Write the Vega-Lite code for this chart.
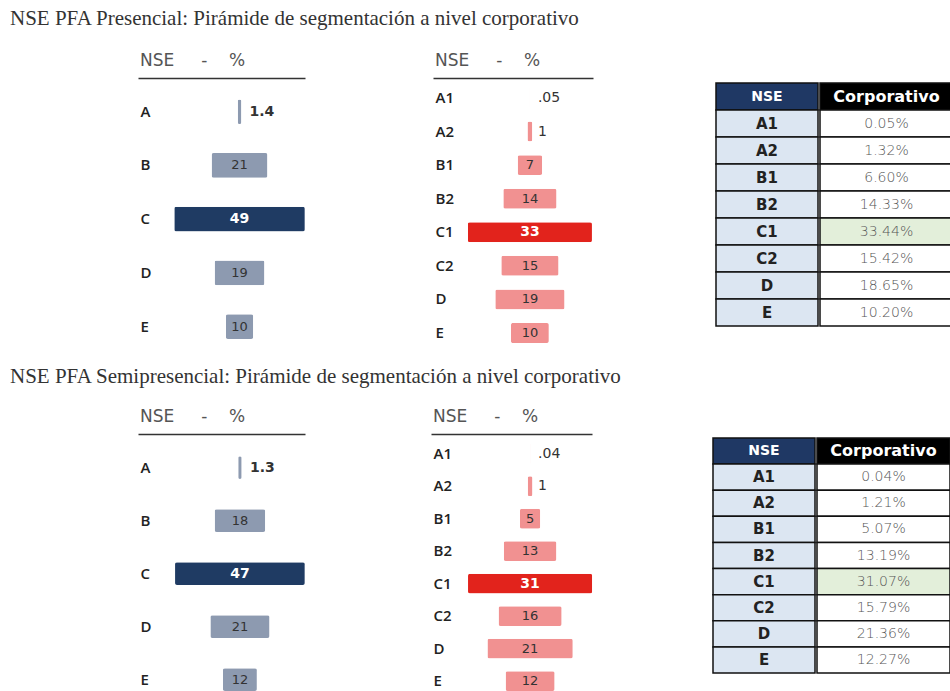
{
  "$schema": "https://vega.github.io/schema/vega-lite/v6.json",
  "background": "white",
  "padding": {"left": 10, "top": 8, "right": 0, "bottom": 0},
  "config": {
    "view": {"stroke": null},
    "font": "DejaVu Sans",
    "axis": {"grid": false},
    "axisX": {"orient": "top", "labels": false, "ticks": false, "grid": false, "title": null, "domainColor": "#333", "domainWidth": 1.5},
    "axisY": {"domain": false, "ticks": false, "title": null, "labelAlign": "left", "labelPadding": -2, "labelFont": "Open Sans", "labelFontWeight": 600, "labelFontSize": 15, "labelColor": "#222"}
  },
  "datasets": {
    "left1": [
      {"nse": "A", "pct": 1.37, "label": "1.4"},
      {"nse": "B", "pct": 20.93, "label": "21"},
      {"nse": "C", "pct": 48.86, "label": "49"},
      {"nse": "D", "pct": 18.65, "label": "19"},
      {"nse": "E", "pct": 10.2, "label": "10"}
    ],
    "right1": [
      {"nse": "A1", "pct": 0.05, "label": ".05"},
      {"nse": "A2", "pct": 1.32, "label": "1"},
      {"nse": "B1", "pct": 6.6, "label": "7"},
      {"nse": "B2", "pct": 14.33, "label": "14"},
      {"nse": "C1", "pct": 33.44, "label": "33"},
      {"nse": "C2", "pct": 15.42, "label": "15"},
      {"nse": "D", "pct": 18.65, "label": "19"},
      {"nse": "E", "pct": 10.2, "label": "10"}
    ],
    "table1": [
      {"nse": "NSE", "corp": "Corporativo"},
      {"nse": "A1", "corp": "0.05%"},
      {"nse": "A2", "corp": "1.32%"},
      {"nse": "B1", "corp": "6.60%"},
      {"nse": "B2", "corp": "14.33%"},
      {"nse": "C1", "corp": "33.44%"},
      {"nse": "C2", "corp": "15.42%"},
      {"nse": "D", "corp": "18.65%"},
      {"nse": "E", "corp": "10.20%"}
    ],
    "left2": [
      {"nse": "A", "pct": 1.25, "label": "1.3"},
      {"nse": "B", "pct": 18.26, "label": "18"},
      {"nse": "C", "pct": 46.86, "label": "47"},
      {"nse": "D", "pct": 21.36, "label": "21"},
      {"nse": "E", "pct": 12.27, "label": "12"}
    ],
    "right2": [
      {"nse": "A1", "pct": 0.04, "label": ".04"},
      {"nse": "A2", "pct": 1.21, "label": "1"},
      {"nse": "B1", "pct": 5.07, "label": "5"},
      {"nse": "B2", "pct": 13.19, "label": "13"},
      {"nse": "C1", "pct": 31.07, "label": "31"},
      {"nse": "C2", "pct": 15.79, "label": "16"},
      {"nse": "D", "pct": 21.36, "label": "21"},
      {"nse": "E", "pct": 12.27, "label": "12"}
    ],
    "table2": [
      {"nse": "NSE", "corp": "Corporativo"},
      {"nse": "A1", "corp": "0.04%"},
      {"nse": "A2", "corp": "1.21%"},
      {"nse": "B1", "corp": "5.07%"},
      {"nse": "B2", "corp": "13.19%"},
      {"nse": "C1", "corp": "31.07%"},
      {"nse": "C2", "corp": "15.79%"},
      {"nse": "D", "corp": "21.36%"},
      {"nse": "E", "corp": "12.27%"}
    ]
  },
  "spacing": 17,
  "vconcat": [
    {
      "title": {"text": "NSE PFA Presencial: Pirámide de segmentación a nivel corporativo", "anchor": "start", "dx": -128, "font": "Liberation Serif", "fontSize": 21, "fontWeight": "normal", "color": "#333", "offset": 23},
      "spacing": 122,
      "hconcat": [
        {
          "spacing": 128,
          "hconcat": [
            {
              "width": 167, "height": 266,
              "data": {"name": "left1"},
              "title": {"text": "NSE\u00a0\u00a0\u00a0\u00a0\u00a0-\u00a0\u00a0\u00a0\u00a0%", "anchor": "start", "fontSize": 17, "fontWeight": "normal", "color": "#555", "offset": 8, "dx": 2},
              "encoding": {
                "y": {"field": "nse", "type": "nominal", "sort": null, "scale": {"paddingInner": 0.54, "paddingOuter": 0.2456, "align": 0.81}}
              },
              "layer": [
                {"mark": {"type": "bar", "cornerRadius": 2},
                 "encoding": {
                   "x": {"field": "pct", "type": "quantitative", "stack": "center", "scale": {"domain": [-13.57, 48.93], "nice": false, "zero": false}},
                   "color": {"condition": {"test": "datum.nse === 'C'", "value": "#1f3b63"}, "value": "#8d9ab0"}}},
                {"transform": [{"filter": "datum.pct >= 3 && datum.nse !== 'C'"}],
                 "mark": {"type": "text", "fontSize": 13, "color": "#333"},
                 "encoding": {"x": {"datum": 24.43, "type": "quantitative", "scale": {"domain": [-13.57, 48.93], "nice": false, "zero": false}}, "text": {"field": "label"}}},
                {"transform": [{"filter": "datum.nse === 'C'"}],
                 "mark": {"type": "text", "fontSize": 14, "fontWeight": "bold", "color": "white"},
                 "encoding": {"x": {"datum": 24.43, "type": "quantitative", "scale": {"domain": [-13.57, 48.93], "nice": false, "zero": false}}, "text": {"field": "label"}}},
                {"transform": [{"filter": "datum.pct < 3"}],
                 "mark": {"type": "text", "fontSize": 14, "fontWeight": "bold", "color": "#333", "align": "left", "dx": 10},
                 "encoding": {"x": {"datum": 24.43, "type": "quantitative", "scale": {"domain": [-13.57, 48.93], "nice": false, "zero": false}}, "text": {"field": "label"}}}
              ]
            },
            {
              "width": 160, "height": 271,
              "data": {"name": "right1"},
              "title": {"text": "NSE\u00a0\u00a0\u00a0\u00a0\u00a0-\u00a0\u00a0\u00a0\u00a0%", "anchor": "start", "fontSize": 17, "fontWeight": "normal", "color": "#555", "offset": 8, "dx": 2},
              "encoding": {
                "y": {"field": "nse", "type": "nominal", "sort": null, "scale": {"paddingInner": 0.405, "paddingOuter": 0.238, "align": 0.625}}
              },
              "layer": [
                {"mark": {"type": "bar", "cornerRadius": 2},
                 "encoding": {
                   "x": {"field": "pct", "type": "quantitative", "stack": "center", "scale": {"domain": [-9.38, 33.72], "nice": false, "zero": false}},
                   "color": {"condition": {"test": "datum.nse === 'C1'", "value": "#e2231c"}, "value": "#f19191"}}},
                {"transform": [{"filter": "datum.pct >= 3 && datum.nse !== 'C1'"}],
                 "mark": {"type": "text", "fontSize": 13, "color": "#333"},
                 "encoding": {"x": {"datum": 16.72, "type": "quantitative", "scale": {"domain": [-9.38, 33.72], "nice": false, "zero": false}}, "text": {"field": "label"}}},
                {"transform": [{"filter": "datum.nse === 'C1'"}],
                 "mark": {"type": "text", "fontSize": 14, "fontWeight": "bold", "color": "white"},
                 "encoding": {"x": {"datum": 16.72, "type": "quantitative", "scale": {"domain": [-9.38, 33.72], "nice": false, "zero": false}}, "text": {"field": "label"}}},
                {"transform": [{"filter": "datum.pct < 3"}],
                 "mark": {"type": "text", "fontSize": 14, "color": "#333", "align": "left", "dx": 8},
                 "encoding": {"x": {"datum": 16.72, "type": "quantitative", "scale": {"domain": [-9.38, 33.72], "nice": false, "zero": false}}, "text": {"field": "label"}}}
              ]
            }
          ]
        },
        {
          "spacing": 0,
          "hconcat": [
            {
              "width": 102, "height": 248,
              "data": {"name": "table1"},
              "encoding": {"y": {"field": "nse", "type": "nominal", "sort": null, "scale": {"paddingInner": 0, "paddingOuter": 0.0926, "align": 1}, "axis": null}},
              "layer": [
                {"mark": {"type": "rect", "stroke": "#111", "strokeWidth": 1.5},
                 "encoding": {"fill": {"condition": {"test": "datum.nse === 'NSE'", "value": "#1f3864"}, "value": "#dce6f2"}}},
                {"mark": {"type": "text", "fontWeight": "bold"},
                 "encoding": {"text": {"field": "nse"},
                   "color": {"condition": {"test": "datum.nse === 'NSE'", "value": "white"}, "value": "#222"},
                   "size": {"condition": {"test": "datum.nse === 'NSE'", "value": 14}, "value": 15}}}
              ]
            },
            {
              "width": 133, "height": 248,
              "data": {"name": "table1"},
              "encoding": {"y": {"field": "nse", "type": "nominal", "sort": null, "scale": {"paddingInner": 0, "paddingOuter": 0.0926, "align": 1}, "axis": null}},
              "layer": [
                {"mark": {"type": "rect", "stroke": "#111", "strokeWidth": 1.5},
                 "encoding": {"fill": {"condition": [{"test": "datum.nse === 'NSE'", "value": "#000000"}, {"test": "datum.nse === 'C1'", "value": "#e3efda"}], "value": "white"}}},
                {"transform": [{"filter": "datum.nse === 'NSE'"}],
                 "mark": {"type": "text", "fontWeight": "bold", "fontSize": 16, "color": "white"},
                 "encoding": {"text": {"field": "corp"}}},
                {"transform": [{"filter": "datum.nse !== 'NSE'"}],
                 "mark": {"type": "text", "fontSize": 14, "fontWeight": 200, "color": "#555"},
                 "encoding": {"text": {"field": "corp"}}}
              ]
            }
          ]
        }
      ]
    },
    {
      "title": {"text": "NSE PFA Semipresencial: Pirámide de segmentación a nivel corporativo", "anchor": "start", "dx": -128, "font": "Liberation Serif", "fontSize": 21, "fontWeight": "normal", "color": "#333", "offset": 21},
      "spacing": 119,
      "hconcat": [
        {
          "spacing": 126,
          "hconcat": [
            {
              "width": 167, "height": 257,
              "data": {"name": "left2"},
              "title": {"text": "NSE\u00a0\u00a0\u00a0\u00a0\u00a0-\u00a0\u00a0\u00a0\u00a0%", "anchor": "start", "fontSize": 17, "fontWeight": "normal", "color": "#555", "offset": 8, "dx": 2},
              "encoding": {
                "y": {"field": "nse", "type": "nominal", "sort": null, "scale": {"paddingInner": 0.57, "paddingOuter": 0.2107, "align": 1}}
              },
              "layer": [
                {"mark": {"type": "bar", "cornerRadius": 2},
                 "encoding": {
                   "x": {"field": "pct", "type": "quantitative", "stack": "center", "scale": {"domain": [-13.37, 46.93], "nice": false, "zero": false}},
                   "color": {"condition": {"test": "datum.nse === 'C'", "value": "#1f3b63"}, "value": "#8d9ab0"}}},
                {"transform": [{"filter": "datum.pct >= 3 && datum.nse !== 'C'"}],
                 "mark": {"type": "text", "fontSize": 13, "color": "#333"},
                 "encoding": {"x": {"datum": 23.43, "type": "quantitative", "scale": {"domain": [-13.37, 46.93], "nice": false, "zero": false}}, "text": {"field": "label"}}},
                {"transform": [{"filter": "datum.nse === 'C'"}],
                 "mark": {"type": "text", "fontSize": 14, "fontWeight": "bold", "color": "white"},
                 "encoding": {"x": {"datum": 23.43, "type": "quantitative", "scale": {"domain": [-13.37, 46.93], "nice": false, "zero": false}}, "text": {"field": "label"}}},
                {"transform": [{"filter": "datum.pct < 3"}],
                 "mark": {"type": "text", "fontSize": 14, "fontWeight": "bold", "color": "#333", "align": "left", "dx": 10},
                 "encoding": {"x": {"datum": 23.43, "type": "quantitative", "scale": {"domain": [-13.37, 46.93], "nice": false, "zero": false}}, "text": {"field": "label"}}}
              ]
            },
            {
              "width": 161, "height": 257,
              "data": {"name": "right2"},
              "title": {"text": "NSE\u00a0\u00a0\u00a0\u00a0\u00a0-\u00a0\u00a0\u00a0\u00a0%", "anchor": "start", "fontSize": 17, "fontWeight": "normal", "color": "#555", "offset": 8, "dx": 2},
              "encoding": {
                "y": {"field": "nse", "type": "nominal", "sort": null, "scale": {"paddingInner": 0.39, "paddingOuter": 0.1524, "align": 1}}
              },
              "layer": [
                {"mark": {"type": "bar", "cornerRadius": 2},
                 "encoding": {
                   "x": {"field": "pct", "type": "quantitative", "stack": "center", "scale": {"domain": [-9.265, 31.035], "nice": false, "zero": false}},
                   "color": {"condition": {"test": "datum.nse === 'C1'", "value": "#e2231c"}, "value": "#f19191"}}},
                {"transform": [{"filter": "datum.pct >= 3 && datum.nse !== 'C1'"}],
                 "mark": {"type": "text", "fontSize": 13, "color": "#333"},
                 "encoding": {"x": {"datum": 15.535, "type": "quantitative", "scale": {"domain": [-9.265, 31.035], "nice": false, "zero": false}}, "text": {"field": "label"}}},
                {"transform": [{"filter": "datum.nse === 'C1'"}],
                 "mark": {"type": "text", "fontSize": 14, "fontWeight": "bold", "color": "white"},
                 "encoding": {"x": {"datum": 15.535, "type": "quantitative", "scale": {"domain": [-9.265, 31.035], "nice": false, "zero": false}}, "text": {"field": "label"}}},
                {"transform": [{"filter": "datum.pct < 3"}],
                 "mark": {"type": "text", "fontSize": 14, "color": "#333", "align": "left", "dx": 8},
                 "encoding": {"x": {"datum": 15.535, "type": "quantitative", "scale": {"domain": [-9.265, 31.035], "nice": false, "zero": false}}, "text": {"field": "label"}}}
              ]
            }
          ]
        },
        {
          "spacing": 0,
          "hconcat": [
            {
              "width": 102, "height": 239,
              "data": {"name": "table2"},
              "encoding": {"y": {"field": "nse", "type": "nominal", "sort": null, "scale": {"paddingInner": 0, "paddingOuter": 0.0766, "align": 1}, "axis": null}},
              "layer": [
                {"mark": {"type": "rect", "stroke": "#111", "strokeWidth": 1.5},
                 "encoding": {"fill": {"condition": {"test": "datum.nse === 'NSE'", "value": "#1f3864"}, "value": "#dce6f2"}}},
                {"mark": {"type": "text", "fontWeight": "bold"},
                 "encoding": {"text": {"field": "nse"},
                   "color": {"condition": {"test": "datum.nse === 'NSE'", "value": "white"}, "value": "#222"},
                   "size": {"condition": {"test": "datum.nse === 'NSE'", "value": 14}, "value": 15}}}
              ]
            },
            {
              "width": 133, "height": 239,
              "data": {"name": "table2"},
              "encoding": {"y": {"field": "nse", "type": "nominal", "sort": null, "scale": {"paddingInner": 0, "paddingOuter": 0.0766, "align": 1}, "axis": null}},
              "layer": [
                {"mark": {"type": "rect", "stroke": "#111", "strokeWidth": 1.5},
                 "encoding": {"fill": {"condition": [{"test": "datum.nse === 'NSE'", "value": "#000000"}, {"test": "datum.nse === 'C1'", "value": "#e3efda"}], "value": "white"}}},
                {"transform": [{"filter": "datum.nse === 'NSE'"}],
                 "mark": {"type": "text", "fontWeight": "bold", "fontSize": 16, "color": "white"},
                 "encoding": {"text": {"field": "corp"}}},
                {"transform": [{"filter": "datum.nse !== 'NSE'"}],
                 "mark": {"type": "text", "fontSize": 14, "fontWeight": 200, "color": "#555"},
                 "encoding": {"text": {"field": "corp"}}}
              ]
            }
          ]
        }
      ]
    }
  ]
}
